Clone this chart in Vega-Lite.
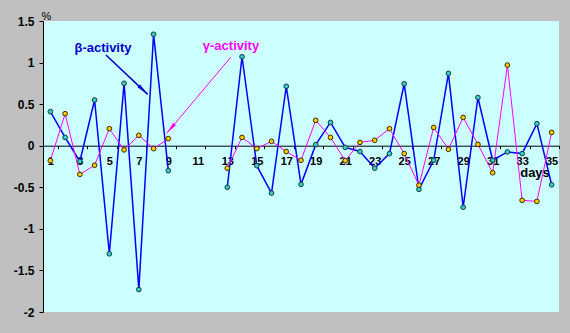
{
  "$schema": "https://vega.github.io/schema/vega-lite/v6.json",
  "width": 516,
  "height": 291,
  "autosize": {"type": "none"},
  "padding": {"left": 43, "top": 21, "right": 11, "bottom": 21},
  "background": "#C0C0C0",
  "config": {
    "view": {"fill": "#CCFFFF", "stroke": null},
    "font": "Arial, Liberation Sans, sans-serif",
    "axis": {"labelOverlap": false, "labelFlush": false, "labelBound": false}
  },
  "datasets": {
    "series": [
      {"day": 1, "beta": 0.41, "gamma": -0.18, "part": "a"},
      {"day": 2, "beta": 0.10, "gamma": 0.385, "part": "a"},
      {"day": 3, "beta": -0.19, "gamma": -0.345, "part": "a"},
      {"day": 4, "beta": 0.55, "gamma": -0.235, "part": "a"},
      {"day": 5, "beta": -1.30, "gamma": 0.205, "part": "a"},
      {"day": 6, "beta": 0.75, "gamma": -0.05, "part": "a"},
      {"day": 7, "beta": -1.73, "gamma": 0.125, "part": "a"},
      {"day": 8, "beta": 1.34, "gamma": -0.035, "part": "a"},
      {"day": 9, "beta": -0.30, "gamma": 0.085, "part": "a"},
      {"day": 13, "beta": -0.50, "gamma": -0.27, "part": "b"},
      {"day": 14, "beta": 1.07, "gamma": 0.10, "part": "b"},
      {"day": 15, "beta": -0.24, "gamma": -0.035, "part": "b"},
      {"day": 16, "beta": -0.57, "gamma": 0.053, "part": "b"},
      {"day": 17, "beta": 0.715, "gamma": -0.07, "part": "b"},
      {"day": 18, "beta": -0.465, "gamma": -0.175, "part": "b"},
      {"day": 19, "beta": 0.013, "gamma": 0.305, "part": "b"},
      {"day": 20, "beta": 0.28, "gamma": 0.10, "part": "b"},
      {"day": 21, "beta": -0.02, "gamma": -0.18, "part": "b"},
      {"day": 22, "beta": -0.07, "gamma": 0.04, "part": "b"},
      {"day": 23, "beta": -0.27, "gamma": 0.065, "part": "b"},
      {"day": 24, "beta": -0.095, "gamma": 0.205, "part": "b"},
      {"day": 25, "beta": 0.745, "gamma": -0.095, "part": "b"},
      {"day": 26, "beta": -0.525, "gamma": -0.475, "part": "b"},
      {"day": 27, "beta": -0.175, "gamma": 0.22, "part": "b"},
      {"day": 28, "beta": 0.87, "gamma": -0.043, "part": "b"},
      {"day": 29, "beta": -0.74, "gamma": 0.34, "part": "b"},
      {"day": 30, "beta": 0.58, "gamma": 0.017, "part": "b"},
      {"day": 31, "beta": -0.175, "gamma": -0.325, "part": "b"},
      {"day": 32, "beta": -0.075, "gamma": 0.97, "part": "b"},
      {"day": 33, "beta": -0.095, "gamma": -0.657, "part": "b"},
      {"day": 34, "beta": 0.265, "gamma": -0.67, "part": "b"},
      {"day": 35, "beta": -0.47, "gamma": 0.16, "part": "b"}
    ],
    "labels": [
      {"x": 4.57, "y": 1.175, "text": "β-activity", "series": "beta"},
      {"x": 13.25, "y": 1.203, "text": "γ-activity", "series": "gamma"}
    ],
    "arrows": [
      {"x": 4.77, "y": 1.091, "x2": 7.60, "y2": 0.618, "series": "beta", "angle": 133.3},
      {"x": 13.23, "y": 1.063, "x2": 8.89, "y2": 0.149, "series": "gamma", "angle": 220.1}
    ]
  },
  "encoding": {
    "x": {
      "type": "quantitative",
      "scale": {"domain": [0.5, 35.5], "nice": false, "zero": false}
    },
    "y": {
      "type": "quantitative",
      "scale": {"domain": [-2, 1.5], "nice": false, "zero": false}
    }
  },
  "layer": [
    {
      "data": {"name": "series"},
      "mark": {"type": "line", "color": "#0000FF", "strokeWidth": 1.5},
      "encoding": {
        "x": {
          "field": "day",
          "type": "quantitative",
          "axis": {
            "orient": "bottom",
            "offset": -166.3,
            "values": [1, 1.5, 3, 3.5, 5, 5.5, 7, 7.5, 9, 9.5, 11, 11.5, 13, 13.5, 15, 15.5, 17, 17.5, 19, 19.5, 21, 21.5, 23, 23.5, 25, 25.5, 27, 27.5, 29, 29.5, 31, 31.5, 33, 33.5, 35, 35.5],
            "tickCount": 200,
            "labelExpr": "datum.value % 2 == 1 ? datum.value + '' : ''",
            "labelOverlap": false,
            "labelFlush": false,
            "labelFont": "Arial, Liberation Sans, sans-serif",
            "labelFontSize": 11,
            "labelFontWeight": "bold",
            "labelColor": "#000000",
            "labelPadding": 7,
            "tickSize": 3,
            "tickColor": "#000000",
            "tickOpacity": {"condition": {"test": "datum.value % 2 == 1", "value": 0}, "value": 1},
            "domainColor": "#000000",
            "domainWidth": 1,
            "grid": false,
            "title": "days",
            "titleX": 491.5,
            "titleY": 27,
            "titleAlign": "center",
            "titleBaseline": "middle",
            "titleFont": "Arial, Liberation Sans, sans-serif",
            "titleFontSize": 13,
            "titleFontWeight": "bold",
            "titleColor": "#000000"
          }
        },
        "y": {
          "field": "beta",
          "type": "quantitative",
          "axis": {
            "values": [-2, -1.5, -1, -0.5, 0, 0.5, 1, 1.5],
            "tickCount": 100,
            "labelExpr": "datum.value + ''",
            "labelFont": "Arial, Liberation Sans, sans-serif",
            "labelFontSize": 12,
            "labelFontWeight": "bold",
            "labelColor": "#000000",
            "labelPadding": 5,
            "tickSize": 4,
            "tickColor": "#000000",
            "domainColor": "#000000",
            "grid": false,
            "title": "%",
            "titleAngle": 0,
            "titleX": 3,
            "titleY": -5,
            "titleAlign": "center",
            "titleBaseline": "middle",
            "titleFontSize": 11,
            "titleFontWeight": "normal",
            "titleColor": "#000000"
          }
        },
        "detail": {"field": "part"}
      }
    },
    {
      "data": {"name": "series"},
      "mark": {"type": "line", "color": "#FF00FF", "strokeWidth": 1},
      "encoding": {
        "x": {"field": "day", "type": "quantitative"},
        "y": {"field": "gamma", "type": "quantitative"},
        "detail": {"field": "part"}
      }
    },
    {
      "data": {"name": "series"},
      "mark": {"type": "circle", "fill": "#33CCCC", "stroke": "#1a3a3a", "strokeWidth": 1, "size": 22, "opacity": 1},
      "encoding": {
        "x": {"field": "day", "type": "quantitative"},
        "y": {"field": "beta", "type": "quantitative"}
      }
    },
    {
      "data": {"name": "series"},
      "mark": {"type": "circle", "fill": "#FFCC00", "stroke": "#3a2a00", "strokeWidth": 1, "size": 22, "opacity": 1},
      "encoding": {
        "x": {"field": "day", "type": "quantitative"},
        "y": {"field": "gamma", "type": "quantitative"}
      }
    },
    {
      "data": {"name": "arrows"},
      "mark": {"type": "rule"},
      "encoding": {
        "x": {"field": "x", "type": "quantitative"},
        "y": {"field": "y", "type": "quantitative"},
        "x2": {"field": "x2"},
        "y2": {"field": "y2"},
        "color": {"field": "series", "type": "nominal", "scale": {"domain": ["beta", "gamma"], "range": ["#0000CC", "#FF00FF"]}, "legend": null},
        "strokeWidth": {"field": "series", "type": "nominal", "scale": {"domain": ["beta", "gamma"], "range": [1.5, 1]}, "legend": null}
      }
    },
    {
      "data": {"name": "arrows"},
      "mark": {"type": "point", "shape": "M0,0L0.3,2L-0.3,2Z", "filled": true, "size": 150, "opacity": 1},
      "encoding": {
        "x": {"field": "x2", "type": "quantitative"},
        "y": {"field": "y2", "type": "quantitative"},
        "angle": {"field": "angle", "type": "quantitative", "scale": null},
        "color": {"field": "series", "type": "nominal", "scale": {"domain": ["beta", "gamma"], "range": ["#0000CC", "#FF00FF"]}, "legend": null}
      }
    },
    {
      "data": {"name": "labels"},
      "mark": {"type": "text", "font": "Arial, Liberation Sans, sans-serif", "fontSize": 13, "fontWeight": "bold", "align": "center", "baseline": "middle"},
      "encoding": {
        "x": {"field": "x", "type": "quantitative"},
        "y": {"field": "y", "type": "quantitative"},
        "text": {"field": "text"},
        "color": {"field": "series", "type": "nominal", "scale": {"domain": ["beta", "gamma"], "range": ["#0000FF", "#FF00FF"]}, "legend": null}
      }
    }
  ]
}
